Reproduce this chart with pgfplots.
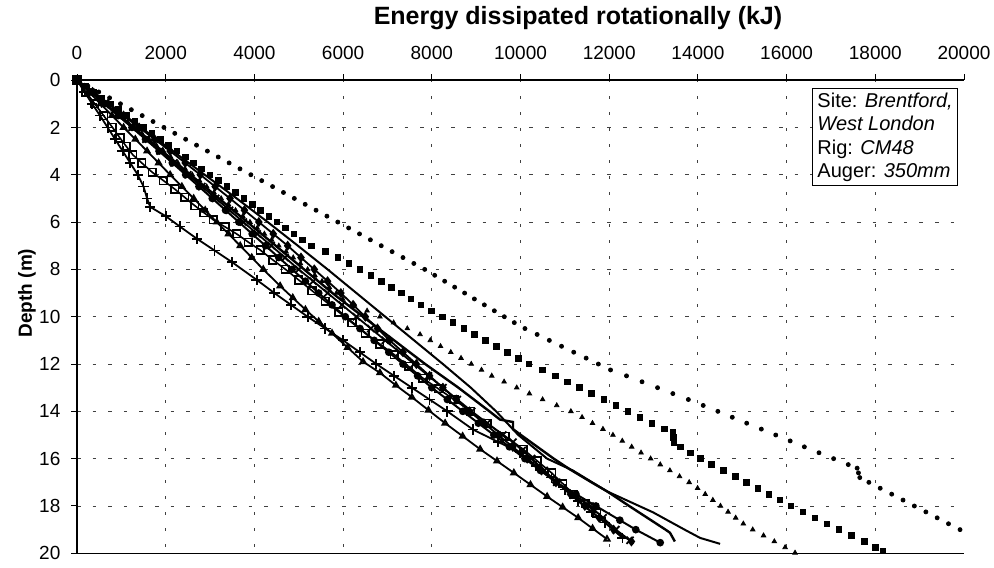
\documentclass[border=0pt]{standalone}
\usepackage{fontspec}
\setmainfont{Liberation Sans}
\usepackage{pgfplots}
\pgfplotsset{compat=1.18}
\usepackage{pgfplotstable}

\pgfplotstableread{
x d
0 0
245 0.25
490 0.5
735 0.75
980 1
1225 1.25
1470 1.5
1715 1.75
1960 2
2205 2.25
2450 2.5
2695 2.75
2940 3
3185 3.25
3430 3.5
3675 3.75
3920 4
4165 4.25
4410 4.5
4655 4.75
4900 5
5145 5.25
5390 5.5
5635 5.75
5880 6
6125 6.25
6370 6.5
6615 6.75
6860 7
7105 7.25
7350 7.5
7595 7.75
7840 8
8065 8.25
8290 8.5
8515 8.75
8740 9
8960 9.25
9185 9.5
9410 9.75
9635 10
9860 10.25
10100 10.5
10375 10.75
10650 11
10925 11.25
11200 11.5
11480 11.75
11755 12
12030 12.25
12390 12.5
12740 12.75
13090 13
13435 13.25
13785 13.5
14120 13.75
14450 14
14775 14.25
15100 14.5
15430 14.75
15755 15
16080 15.25
16400 15.5
16730 15.75
17060 16
17390 16.25
17590 16.4
17620 16.6
17650 16.8
17855 17
18110 17.25
18370 17.5
18625 17.75
18880 18
19140 18.25
19395 18.5
19650 18.75
19910 19
}\tabdots

\pgfplotstableread{
x d
0 0
190 0.25
375 0.5
565 0.75
750 1
940 1.25
1125 1.5
1310 1.75
1500 2
1690 2.25
1875 2.5
2060 2.75
2250 3
2440 3.25
2625 3.5
2810 3.75
3000 4
3190 4.25
3380 4.5
3570 4.75
3760 5
3950 5.25
4140 5.5
4330 5.75
4510 6
4700 6.25
4890 6.5
5080 6.75
5290 7
5600 7.25
5880 7.5
6130 7.75
6380 8
6630 8.25
6870 8.5
7090 8.75
7310 9
7530 9.25
7750 9.5
7990 9.75
8240 10
8480 10.25
8720 10.5
8960 10.75
9210 11
9460 11.25
9710 11.5
9950 11.75
10190 12
10490 12.25
10780 12.5
11060 12.75
11330 13
11600 13.25
11880 13.5
12150 13.75
12420 14
12690 14.25
12960 14.5
13250 14.75
13440 14.9
13450 15.1
13460 15.3
13610 15.5
13830 15.75
14050 16
14310 16.25
14580 16.5
14840 16.75
15100 17
15350 17.25
15600 17.5
15850 17.75
16100 18
16370 18.25
16640 18.5
16910 18.75
17180 19
17460 19.25
17750 19.5
18000 19.75
18170 19.9
}\tabsq

\pgfplotstableread{
x d
0 0
163 0.25
325 0.5
488 0.75
650 1
813 1.25
975 1.5
1138 1.75
1300 2
1463 2.25
1625 2.5
1788 2.75
1950 3
2113 3.25
2275 3.5
2438 3.75
2600 4
2763 4.25
2925 4.5
3088 4.75
3250 5
3413 5.25
3575 5.5
3738 5.75
3900 6
4063 6.25
4225 6.5
4388 6.75
4550 7
4713 7.25
4875 7.5
5038 7.75
5200 8
5363 8.25
5525 8.5
5688 8.75
5850 9
5990 9.25
6253 9.5
6541 9.75
6830 10
7139 10.25
7448 10.5
7735 10.75
7966 11
8197 11.25
8428 11.5
8659 11.75
8890 12
9121 12.25
9352 12.5
9630 12.75
9915 13
10200 13.25
10498 13.5
10817 13.75
11136 14
11388 14.25
11623 14.5
11859 14.75
12084 15
12295 15.25
12507 15.5
12718 15.75
12934 16
13151 16.25
13368 16.5
13586 16.75
13803 17
13993 17.25
14165 17.5
14337 17.75
14509 18
14680 18.25
14852 18.5
15024 18.75
15236 19
15480 19.25
15723 19.5
15966 19.75
16190 19.98
}\tabtri

\begin{document}
\begin{tikzpicture}
\useasboundingbox (0,0) rectangle (497pt,283.5pt);
\begin{axis}[
  scale only axis, width=443.5pt, height=236.6pt,
  anchor=south west, at={(38.5pt,6.85pt)},
  xmin=0, xmax=20000, ymin=0, ymax=20, y dir=reverse,
  axis x line=box, axis y line=left,
  axis line style={-, black, line width=0.6pt},
  xtick={0,2000,...,18000}, ytick={0,2,...,20},
  extra x ticks={20000}, extra x tick style={grid=none},
  scaled x ticks=false,
  xtick pos=right, xticklabel pos=right, ytick pos=left,
  tick align=outside, major tick length=2.8pt,
  tick style={black, line width=0.5pt},
  grid=major,
  major x grid style={black!75, line width=0.45pt, dash pattern=on 1.2pt off 6.8pt},
  major y grid style={black!75, line width=0.45pt, dash pattern=on 1.8pt off 6pt},
  /pgf/number format/assume math mode=true,
  /pgf/number format/1000 sep={},
  tick label style={font=\fontsize{9.5}{11}\selectfont},
  xticklabel shift=4pt,
  yticklabel shift=2pt,
  clip=false,
]
\addplot[black, only marks, mark=*, mark size=1pt] table[x=x,y=d] {\tabdots};
\addplot[black, only marks, mark=square*, mark size=1.4pt] table[x=x,y=d] {\tabsq};
\addplot[black, only marks, mark=triangle*, mark size=1.3pt] table[x=x,y=d] {\tabtri};
% line A (with step)
\addplot[black, line width=1.2pt] coordinates {(0,0) (640,1) (1280,2) (1920,3) (2560,4) (3200,5) (3840,6) (4480,7) (5120,8) (5760,9) (5860,9.15) (6450,10) (7150,11) (7850,12) (8600,13) (9300,14) (9540,14.35) (9830,14.45) (9830,14.75) (10010,15) (10750,16) (11120,16.46) (11600,17) (11950,17.38) (12450,18) (13270,19) (13370,19.13) (13480,19.5)};
% line B
\addplot[black, line width=1pt] coordinates {(0,0) (720,1) (1440,2) (2160,3) (2880,4) (3600,5) (4300,6) (4980,7) (5650,8) (6300,9) (6950,10) (7600,11) (8250,12) (8880,13) (9450,14) (9950,15) (10600,16) (11180,16.5) (11950,17.38) (12990,18.27) (13700,19) (14050,19.35) (14500,19.6)};
% thick line with dots
\addplot[black, line width=1pt, mark=*, mark size=1.4pt] coordinates {(0,0) (310,0.5) (620,1) (930,1.5) (1240,2) (1545,2.5) (1850,3) (2150,3.5) (2450,4) (2750,4.5) (3050,5) (3350,5.5) (3650,6) (3950,6.5) (4250,7) (4550,7.5) (4850,8) (5150,8.5) (5450,9) (5750,9.5) (6050,10) (6380,10.5) (6700,11) (7030,11.5) (7350,12) (7680,12.5) (8000,13) (8350,13.5) (8700,14) (9050,14.5) (9400,15) (9750,15.5) (10100,16) (10450,16.5) (10800,17) (11250,17.5) (11700,18) (12240,18.6) (12600,19) (13150,19.55)};
% x markers
\addplot[black, line width=0.9pt, mark=x, mark size=2.5pt] coordinates {(0,0) (310,0.5) (620,1) (930,1.5) (1240,2) (1555,2.5) (1870,3) (2185,3.5) (2500,4) (2815,4.5) (3130,5) (3440,5.5) (3750,6) (4065,6.5) (4380,7) (4690,7.5) (5000,8) (5325,8.5) (5650,9) (5975,9.5) (6300,10) (6625,10.5) (6950,11) (7275,11.5) (7600,12) (7925,12.5) (8250,13) (8575,13.5) (8900,14) (9250,14.5) (9600,15) (9830,15.3) (10040,15.65) (10250,16) (10535,16.5) (10820,17) (11195,17.5) (11570,18) (11860,18.5) (12150,19) (12470,19.45)};
% kinked + markers
\addplot[black, line width=0.9pt, mark=+, mark size=2.6pt] coordinates {(0,0) (170,0.5) (340,1) (520,1.5) (690,2) (860,2.5) (1030,3) (1200,3.5) (1370,4) (1500,4.5) (1580,5) (1650,5.36) (2000,5.75) (2320,6.19) (2700,6.7) (3100,7.2) (3500,7.7) (4050,8.44) (4450,9) (4825,9.5) (5200,10) (5600,10.5) (6000,11) (6375,11.5) (6750,12) (7150,12.5) (7550,13) (7950,13.5) (8350,14) (8930,14.77) (9500,15.3) (9990,15.74) (10350,16.3) (10700,16.8) (11000,17.3) (11300,17.8) (11600,18.25) (11900,18.7) (12300,19.35)};
% lowest line
\addplot[black, line width=0.9pt, mark=triangle, mark size=1.5pt] coordinates {(0,0) (265,0.5) (530,1) (790,1.5) (1050,2) (1315,2.5) (1580,3) (1840,3.5) (2100,4) (2365,4.5) (2630,5) (2890,5.5) (3150,6) (3415,6.5) (3680,7) (3940,7.5) (4200,8) (4580,8.7) (4865,9.2) (5150,9.7) (5450,10.2) (5750,10.7) (6100,11.3) (6450,11.9) (6830,12.37) (7190,12.9) (7550,13.4) (7925,13.95) (8300,14.5) (8695,15.05) (9090,15.6) (9470,16.1) (9850,16.6) (10225,17.1) (10600,17.6) (10950,18.05) (11300,18.5) (11625,18.95) (11950,19.4)};
% open boxes
\addplot[black, line width=0.8pt, mark=square, mark size=1.9pt] coordinates {(0,0) (200,0.5) (400,1) (600,1.5) (800,2) (970,2.45) (1110,2.8) (1260,3.16) (1460,3.5) (1700,3.9) (1950,4.25) (2200,4.6) (2425,4.95) (2650,5.3) (2860,5.6) (3070,5.9) (3335,6.2) (3600,6.5) (3865,6.85) (4130,7.18) (4415,7.6) (4700,8) (5000,8.45) (5300,8.9) (5600,9.35) (5900,9.8) (6200,10.25) (6500,10.7) (6825,11.15) (7150,11.6) (7475,12.1) (7800,12.6) (8150,13.05) (8500,13.5) (8875,14) (9250,14.5) (9655,15.05) (10060,15.6) (10380,16.1) (10700,16.6) (10950,17.05) (11200,17.5) (11460,17.9) (11720,18.3)};
% diamonds
\addplot[black, line width=0.9pt, mark=diamond*, mark size=1.8pt] coordinates {(0,0) (350,0.5) (700,1) (1050,1.5) (1400,2) (1750,2.5) (2100,3) (2440,3.5) (2780,4) (3115,4.5) (3450,5) (3775,5.5) (4100,6) (4425,6.5) (4750,7) (5050,7.5) (5350,8) (5650,8.5) (5950,9) (6225,9.5) (6500,10) (6775,10.5) (7050,11) (7350,11.5) (7650,12) (7950,12.5) (8250,13) (8550,13.5) (8850,14) (9175,14.5) (9500,15) (9825,15.5) (10150,16) (10475,16.5) (10800,17) (11125,17.5) (11450,18) (11775,18.5) (12100,19) (12500,19.5)};
\node[draw=black, line width=0.6pt, fill=white, anchor=north west, align=left, inner xsep=2.5pt, inner ysep=2pt, font=\fontsize{10}{11.7}\selectfont] at (axis cs:16570,0.34) {Site: \textit{Brentford,}\\ \textit{West London}\\ Rig: \textit{CM48}\\ Auger: \textit{350mm}};
\end{axis}
\node[font=\fontsize{12.5}{14}\bfseries] at (289pt,274.5pt) {Energy dissipated rotationally (kJ)};
\node[font=\fontsize{9.5}{11}\bfseries, rotate=90] at (13.5pt,137pt) {Depth (m)};
\end{tikzpicture}
\end{document}
